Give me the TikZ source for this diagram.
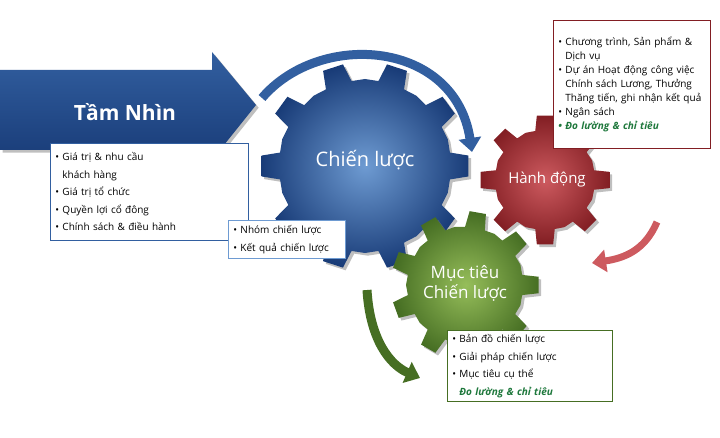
\documentclass[tikz,border=0pt]{standalone}
\usepackage{fontspec}
\setmainfont{Open Sans}
\usetikzlibrary{arrows.meta,shadows}
\definecolor{dblue}{RGB}{25,60,120}
\definecolor{mblue}{RGB}{50,95,160}
\definecolor{lblue}{RGB}{110,155,210}
\definecolor{dred}{RGB}{130,30,35}
\definecolor{lred}{RGB}{205,90,95}
\definecolor{dgreen}{RGB}{70,110,35}
\definecolor{lgreen}{RGB}{150,190,90}
\definecolor{tgreen}{RGB}{30,120,60}
\tikzset{
  infobox/.style={draw=#1,line width=0.8pt,fill=white,align=left,anchor=north west,inner xsep=5pt,inner ysep=4pt,font=\fontsize{10}{17.5}\selectfont,text=black},
  bigarc/.style={line width=9pt,-{Triangle[width=22pt,length=14pt]}},
  gtext/.style={text=white,font=\fontsize{20}{23}\selectfont,align=center}
}
% #1 style, #2 center, #3 inner r, #4 outer r, #5 teeth
\newcommand{\mygear}[5]{%
  \pgfmathsetmacro{\gst}{360/#5}%
  \begin{scope}[shift={(#2)}]
  \path[#1] ({-0.25*\gst}:#3)
  \foreach \i in {1,...,#5}{
     -- ({(\i-1)*\gst-0.25*\gst}:#3)
     -- ({(\i-1)*\gst-0.16*\gst}:#4)
     -- ({(\i-1)*\gst+0.16*\gst}:#4)
     -- ({(\i-1)*\gst+0.25*\gst}:#3)
     -- ({(\i-1)*\gst+0.5*\gst}:#3+1)
  } -- cycle;
  \end{scope}}
\begin{document}
\begin{tikzpicture}[x=1pt,y=-1pt]
\useasboundingbox (0,0) rectangle (720,438);
% big arrow
\path[top color=mblue,bottom color=dblue,drop shadow]
  (0,70) -- (212,70) -- (212,52) -- (256,105) -- (212,160) -- (212,150) -- (0,150) -- cycle;
\node[text=white,font=\bfseries\fontsize{21}{24}\selectfont] (tam) at (125,112) {Tầm Nhìn};
\node[infobox=mblue,text width=188pt,minimum height=97pt] (b1) at (50,143) {%
• Giá trị \& nhu cầu\\\hspace*{7pt}khách hàng\\• Giá trị tổ chức\\• Quyền lợi cổ đông\\• Chính sách \& điều hành};
% top arc
\draw[bigarc,mblue] (262,98) .. controls (320,30) and (455,40) .. (472,152);
% blue gear
\mygear{shade,inner color=lblue,outer color=dblue,drop shadow}{365,166}{86}{104}{10}
\node[gtext] (chien) at (365,160) {Chiến lược};
% red gear
\mygear{shade,inner color=lred,outer color=dred,drop shadow}{545,180}{50}{65}{8}
\node[gtext,font=\fontsize{15}{18}\selectfont] (hanh) at (547,180) {Hành động};
% green gear
\mygear{shade,inner color=lgreen,outer color=dgreen,drop shadow}{465,285}{58}{74}{9}
\node[gtext,font=\fontsize{17}{20}\selectfont] (muc) at (465,283) {Mục tiêu\\Chiến lược};
% red arrow
\draw[bigarc,lred,line width=7pt] (657,222) .. controls (645,250) and (625,258) .. (592,263);
% green arrow
\draw[bigarc,dgreen,line width=9pt] (367,290) .. controls (370,340) and (390,365) .. (420,378);
% boxes
\node[infobox=lblue,text width=107pt,minimum height=38pt] (b2) at (228,220) {• Nhóm chiến lược\\• Kết quả chiến lược};
\node[infobox=dred,text width=147pt,minimum height=128pt,font=\fontsize{10}{14}\selectfont] (b3) at (553,20) {%
• Chương trình, Sản phẩm \&\\\hspace*{7pt}Dịch vụ\\• Dự án Hoạt động công việc\\\hspace*{7pt}Chính sách Lương, Thưởng\\\hspace*{7pt}Thăng tiến, ghi nhận kết quả\\• Ngân sách\\{\color{tgreen}\bfseries\itshape • Đo lường \& chỉ tiêu}};
\node[infobox=dgreen,text width=155pt,minimum height=70pt] (b4) at (447,330) {%
• Bản đồ chiến lược\\• Giải pháp chiến lược\\• Mục tiêu cụ thể\\\hspace*{7pt}{\color{tgreen}\bfseries\itshape Đo lường \& chỉ tiêu}};
\end{tikzpicture}
\end{document}
